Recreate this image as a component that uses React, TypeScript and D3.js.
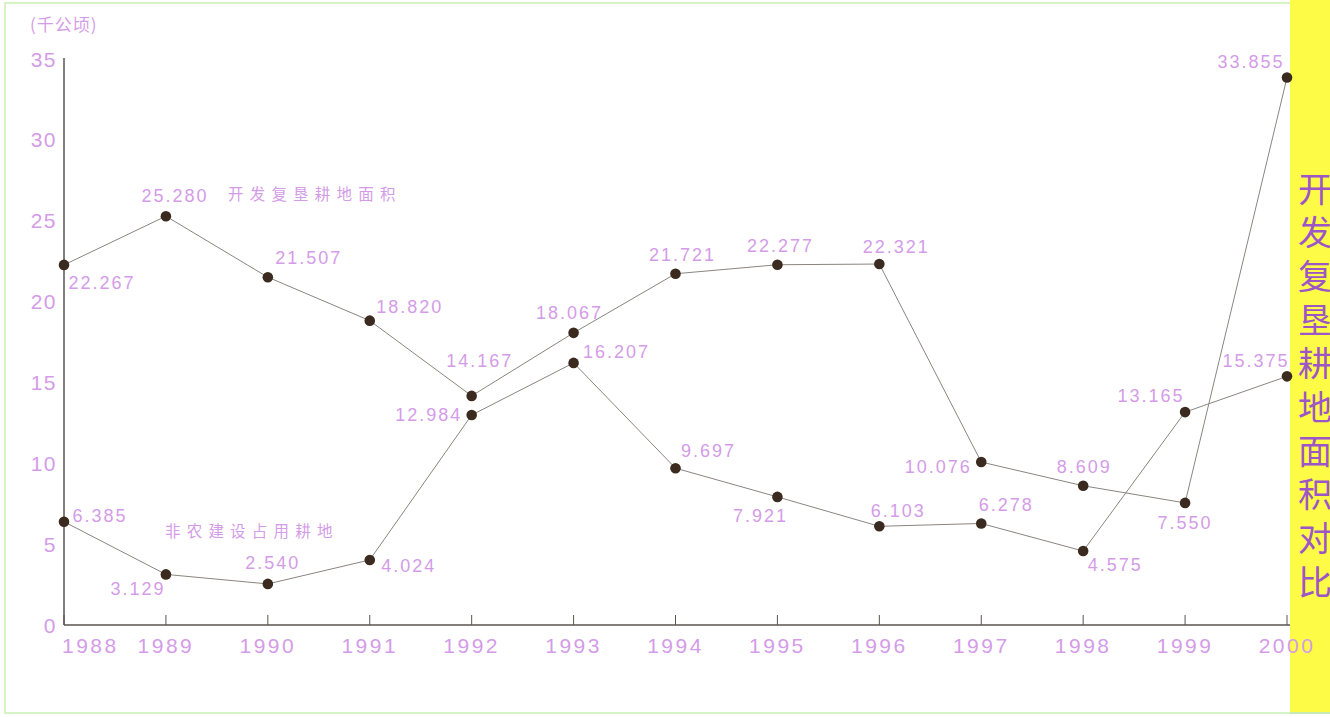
import React from 'react'
import * as d3 from 'd3'

const years = [1988, 1989, 1990, 1991, 1992, 1993, 1994, 1995, 1996, 1997, 1998, 1999, 2000]
// 开发复垦耕地面积 (千公顷)
const reclaimed = [22.267, 25.28, 21.507, 18.82, 14.167, 18.067, 21.721, 22.277, 22.321, 10.076, 8.609, 7.55, 33.855]
// 非农建设占用耕地 (千公顷)
const occupied = [6.385, 3.129, 2.54, 4.024, 12.984, 16.207, 9.697, 7.921, 6.103, 6.278, 4.575, 13.165, 15.375]
const yTicks = [0, 5, 10, 15, 20, 25, 30, 35]
const titleChars = '开发复垦耕地面积对比'.split('')

// label offsets from each point (layout only)
const reclaimedOff = [[38, 18], [9, -20], [41, -19], [40, -14], [8, -35], [-4, -20], [7, -19], [3, -19], [17, -17], [-43, 5], [1, -19], [0, 20], [-36, -16]]
const occupiedOff = [[36, -6], [-28, 15], [5, -21], [39, 6], [-43, 0], [43, -11], [33, -17], [-17, 19], [19, -15], [25, -18], [32, 14], [-34, -16], [-31, -15]]

const W = 1330
const H = 717
const labelColor = '#d49ce8'
const numFont = '"Liberation Sans", Arial, sans-serif'
const cjkFont = '"Noto Sans CJK SC", sans-serif'

export default function App() {
  const x = d3.scaleLinear().domain([1988, 2000]).range([64, 1287])
  const y = d3.scaleLinear().domain([0, 35]).range([625, 59])
  const line = d3
    .line<number>()
    .x((_, i) => x(years[i]))
    .y((d) => y(d))

  const series = [
    { values: reclaimed, off: reclaimedOff },
    { values: occupied, off: occupiedOff },
  ]

  return (
    <svg width={W} height={H} style={{ position: 'absolute', left: 0, top: 0, background: '#fff' }}>
      {/* frame */}
      <rect x={5} y={3} width={1300} height={710} fill="none" stroke="#d6f3c6" strokeWidth={2} />
      <rect x={1290} y={0} width={40} height={712} fill="#fdfb46" />
      <line x1={1290} x2={1330} y1={713} y2={713} stroke="#c6ecb4" strokeWidth={2} />

      {/* vertical title */}
      <g fill="#9d56c6" fontFamily={cjkFont} fontSize={34}>
        {titleChars.map((c, i) => (
          <text key={i} x={1298} y={187 + i * 43.7} dominantBaseline="central">
            {c}
          </text>
        ))}
      </g>

      {/* unit */}
      <text x={30} y={23} fill={labelColor} fontFamily={cjkFont} fontSize={17} letterSpacing={1} dominantBaseline="central">
        (千公顷)
      </text>

      {/* axes */}
      <line x1={64} x2={64} y1={y(35) - 1} y2={y(0)} stroke="#5a5550" strokeWidth={1.5} />
      <line x1={64} x2={1290} y1={y(0)} y2={y(0)} stroke="#5a5550" strokeWidth={1.5} />
      {years.map((yr) => (
        <line key={yr} x1={x(yr)} x2={x(yr)} y1={y(0)} y2={y(0) - 10} stroke="#5a5550" strokeWidth={1} />
      ))}
      {yTicks.map((t) => (
        <text
          key={t}
          x={57}
          y={y(t)}
          textAnchor="end"
          dominantBaseline="central"
          fill={labelColor}
          fontFamily={numFont}
          fontSize={21}
          letterSpacing={1.5}
        >
          {t}
        </text>
      ))}
      {years.map((yr, i) => (
        <text
          key={yr}
          x={i === 0 ? 62 : x(yr)}
          y={645}
          textAnchor={i === 0 ? 'start' : 'middle'}
          dominantBaseline="central"
          fill={labelColor}
          fontFamily={numFont}
          fontSize={21}
          letterSpacing={2.5}
        >
          {yr}
        </text>
      ))}

      {/* lines */}
      {series.map((s, si) => (
        <path key={si} d={line(s.values) || ''} fill="none" stroke="#8a8580" strokeWidth={1} />
      ))}
      {series.map((s, si) =>
        s.values.map((v, i) => (
          <circle key={`${si}-${i}`} cx={x(years[i])} cy={y(v)} r={5.3} fill="#3b2a1f" />
        )),
      )}
      {series.map((s, si) =>
        s.values.map((v, i) => (
          <text
            key={`t${si}-${i}`}
            x={x(years[i]) + s.off[i][0]}
            y={y(v) + s.off[i][1]}
            textAnchor="middle"
            dominantBaseline="central"
            fill={labelColor}
            fontFamily={numFont}
            fontSize={18}
            letterSpacing={2}
          >
            {v.toFixed(3)}
          </text>
        )),
      )}

      {/* series names */}
      <text x={228} y={193} fill={labelColor} fontFamily={cjkFont} fontSize={15.5} letterSpacing={6.2} dominantBaseline="central">
        开发复垦耕地面积
      </text>
      <text x={165} y={530} fill={labelColor} fontFamily={cjkFont} fontSize={15.5} letterSpacing={6.2} dominantBaseline="central">
        非农建设占用耕地
      </text>
    </svg>
  )
}
